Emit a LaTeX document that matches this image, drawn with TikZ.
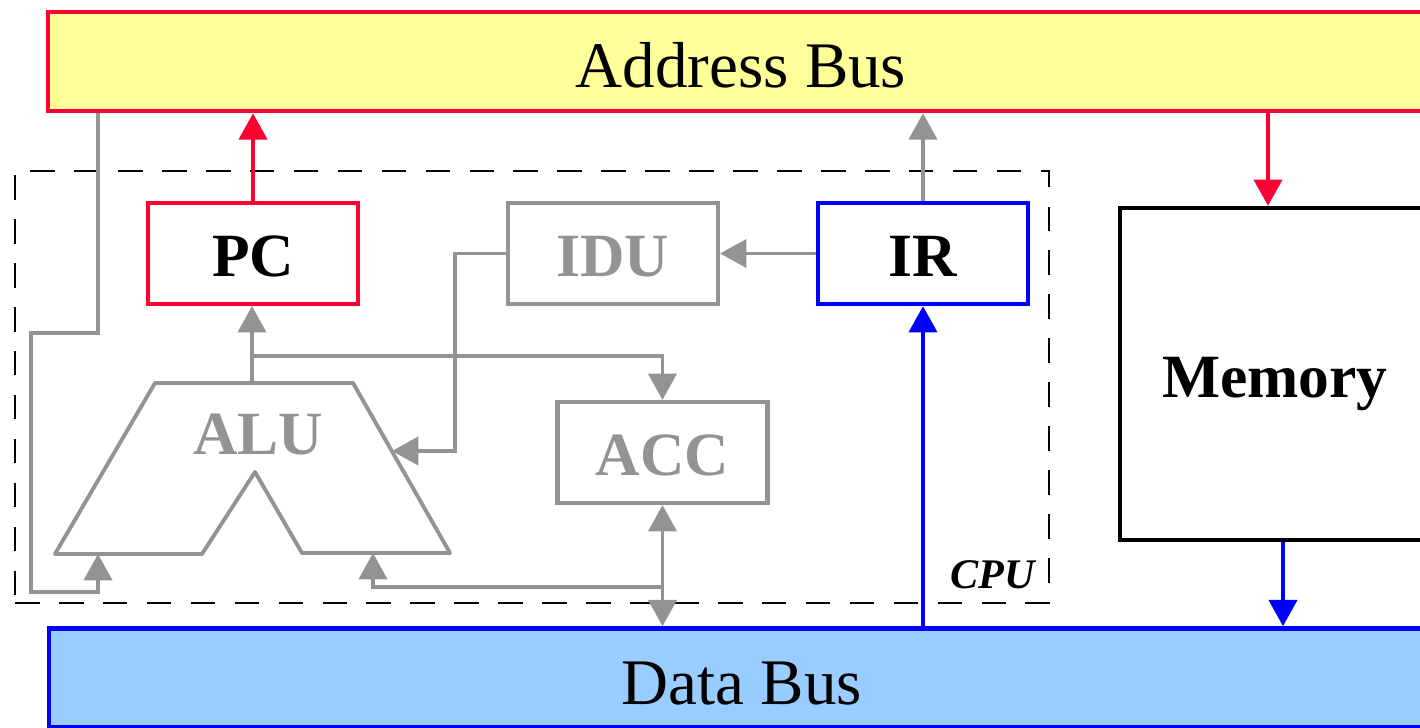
\documentclass[tikz,border=0pt]{standalone}
\usepackage{fontspec}
\setmainfont{Liberation Serif}
\usetikzlibrary{arrows.meta, positioning, calc}
\definecolor{busred}{HTML}{FF0033}
\definecolor{busblue}{HTML}{0000FF}
\definecolor{unitgray}{HTML}{939393}
\definecolor{addryellow}{HTML}{FFFF99}
\definecolor{datablue}{HTML}{99CCFF}
\newcommand{\lowered}[2]{\raisebox{-#1}[\height][\depth]{#2}}

\begin{document}
\begin{tikzpicture}[
    >={Triangle[length=7.5pt, width=8pt]},
    bus/.style={draw, line width=1.3pt, minimum width=13.86cm, minimum height=0.99cm,
                font=\fontsize{18.5}{20}\selectfont},
    box/.style={draw, line width=1.2pt, minimum width=2.1cm, minimum height=1.01cm,
                font=\fontsize{17.5}{20}\selectfont\bfseries},
    cpubox/.style={draw, dash pattern=on 7pt off 5.5pt, line width=0.6pt,
                   minimum width=10.34cm, minimum height=4.32cm},
    garr/.style={->, line width=1.1pt, color=unitgray},
    rarr/.style={->, line width=1.1pt, color=busred},
    barr/.style={->, line width=1.1pt, color=busblue},
]
\useasboundingbox (0,0) rectangle (14.2,7.27);
\clip (0,0) rectangle (14.2,7.27);

% Buses
\node[bus, fill=addryellow, draw=busred] (addr) at (7.41,6.655) {\lowered{0.04cm}{Address Bus}};
\node[bus, fill=datablue, draw=busblue] (data) at (7.42,0.49) {\lowered{0.06cm}{Data Bus}};

% CPU frame
\node[cpubox] (cpu) at (5.32,3.40) {};
\node[font=\fontsize{12}{14}\selectfont\bfseries\itshape] (cpulabel) at (9.93,1.52) {CPU};

% Registers
\node[box, draw=busred] (pc) at (2.53,4.735) {\lowered{0.03cm}{PC}};
\node[box, draw=unitgray, text=unitgray] (idu) at (6.13,4.735) {\lowered{0.03cm}{IDU}};
\node[box, draw=busblue] (ir) at (9.23,4.735) {\lowered{0.03cm}{IR}};
\node[box, draw=unitgray, text=unitgray] (acc) at (6.625,2.745) {\lowered{0.03cm}{ACC}};

% Memory
\node[box, draw=black, minimum width=3.1cm, minimum height=3.32cm] (mem) at (12.75,3.53) {\lowered{0.1cm}{Memory}};

% ALU
\draw[unitgray, line width=1.1pt, line join=round]
    (1.55,3.44) -- (3.53,3.44) -- (4.50,1.74) -- (3.02,1.74) -- (2.55,2.55)
    -- (2.02,1.73) -- (0.55,1.73) -- cycle;
\node[font=\fontsize{17.5}{20}\selectfont\bfseries, text=unitgray] (alu) at (2.58,2.93) {ALU};
\coordinate (alutop) at (2.52,3.44);
\coordinate (ina) at (0.98,1.73);
\coordinate (inb) at (3.73,1.74);
\coordinate (inc) at (3.92,2.76);
\coordinate (accj) at (6.62,1.40);

% Address side
\draw[rarr] (pc.north) -- (pc.north |- addr.south);
\draw[garr] (ir.north) -- (ir.north |- addr.south);
\draw[rarr] ([xshift=-0.07cm]mem.north |- addr.south) -- ([xshift=-0.07cm]mem.north);

% Data side
\draw[barr] (data.north -| ir.south) -- (ir.south);
\draw[barr] ([xshift=0.08cm]mem.south) -- ([xshift=0.08cm]mem.south |- data.north);
\draw[garr, <->] (acc.south) -- (acc.south |- data.north);

% Inside the CPU
\draw[garr] (ir.west) -- (idu.east);
\draw[garr] (alutop) -- (pc.south -| alutop);
\draw[garr] ($(alutop)+(0,0.27)$) -| (acc.north);
\draw[garr] (idu.west) -| ($(inc)+(0.63,0)$) -- (inc);
\draw[garr] (accj) -| (inb);
\draw[garr] (ina |- addr.south) -- (0.98,3.94) -| (0.31,1.35) -| (ina);

\end{tikzpicture}
\end{document}
